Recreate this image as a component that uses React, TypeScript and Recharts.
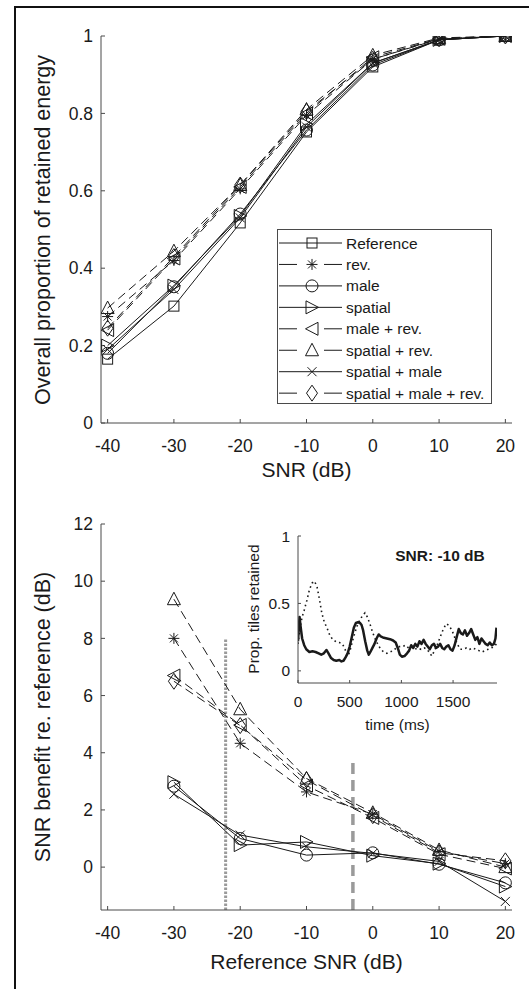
import React from 'react';
import { LineChart, Line, XAxis, YAxis, Legend, ReferenceLine, CartesianGrid } from 'recharts';

const FONT = '"Liberation Sans", Arial, Helvetica, sans-serif';
const INK = '#1a1a1a';
const AXIS = '#4a4a4a';

// ---------- series definitions ----------
const seriesNames = ['Reference', 'rev.', 'male', 'spatial', 'male + rev.', 'spatial + rev.', 'spatial + male', 'spatial + male + rev.'];
const seriesKeys = ['ref', 'rev', 'male', 'spatial', 'maleRev', 'spatialRev', 'spatialMale', 'spatialMaleRev'];
const seriesShapes = ['square', 'star', 'circle', 'right', 'left', 'up', 'cross', 'diamond'];
const seriesDashed = [false, true, false, false, true, true, false, true];

// ---------- top panel: overall proportion of retained energy ----------
const snrTop = [-40, -30, -20, -10, 0, 10, 20];
const topReference = [0.165, 0.302, 0.517, 0.752, 0.92, 0.99, 1.0];
const topRev = [0.275, 0.42, 0.605, 0.795, 0.94, 0.992, 1.0];
const topMale = [0.18, 0.352, 0.54, 0.757, 0.925, 0.99, 1.0];
const topSpatial = [0.2, 0.355, 0.535, 0.772, 0.93, 0.99, 1.0];
const topMaleRev = [0.24, 0.425, 0.61, 0.8, 0.945, 0.993, 1.0];
const topSpatialRev = [0.297, 0.444, 0.615, 0.81, 0.95, 0.995, 1.0];
const topSpatialMale = [0.19, 0.345, 0.53, 0.765, 0.93, 0.99, 1.0];
const topSpatialMaleRev = [0.245, 0.43, 0.615, 0.805, 0.94, 0.993, 1.0];
const topXTicks = [-40, -30, -20, -10, 0, 10, 20];
const topYTicks = [0, 0.2, 0.4, 0.6, 0.8, 1];

// ---------- bottom panel: SNR benefit re. reference ----------
const snrBottom = [-30, -20, -10, 0, 10, 20];
const botRev = [8.0, 4.33, 2.63, 1.85, 0.55, 0.12];
const botMale = [2.83, 1.0, 0.42, 0.5, 0.1, -0.55];
const botSpatial = [2.97, 0.77, 0.88, 0.4, 0.12, -0.68];
const botMaleRev = [6.7, 4.97, 2.85, 1.72, 0.45, -0.05];
const botSpatialRev = [9.37, 5.52, 3.1, 1.9, 0.6, 0.0];
const botSpatialMale = [2.55, 1.12, 0.71, 0.48, 0.2, -1.2];
const botSpatialMaleRev = [6.5, 4.95, 3.05, 1.8, 0.5, 0.22];
const bottomYTicks = [0, 2, 4, 6, 8, 10, 12];
const dottedMarkerSnr = -22.2;
const dottedMarkerTop = 8.0;
const dashedMarkerSnr = -3;
const dashedMarkerTop = 3.8;

// ---------- inset: proportion of tiles retained over time (SNR -10 dB) ----------
const solidTime = [0, 15, 25, 40, 60, 80, 110, 140, 170, 200, 225, 250, 275, 295, 320, 345, 370, 400, 420, 440, 460, 480, 500, 520, 540, 560, 580, 600, 615, 630, 650, 670, 685, 700, 720, 740, 760, 780, 800, 830, 860, 890, 920, 945, 965, 985, 1005, 1030, 1055, 1075, 1095, 1115, 1135, 1155, 1175, 1195, 1215, 1235, 1255, 1275, 1295, 1315, 1335, 1355, 1375, 1395, 1415, 1435, 1455, 1475, 1495, 1515, 1535, 1555, 1575, 1595, 1615, 1635, 1655, 1675, 1695, 1715, 1735, 1755, 1775, 1795, 1815, 1835, 1855, 1875, 1895, 1910, 1920];
const solidProp = [0.22, 0.40, 0.33, 0.24, 0.19, 0.16, 0.14, 0.145, 0.14, 0.13, 0.12, 0.13, 0.155, 0.13, 0.095, 0.08, 0.075, 0.08, 0.07, 0.075, 0.10, 0.13, 0.18, 0.25, 0.32, 0.355, 0.36, 0.355, 0.34, 0.30, 0.22, 0.15, 0.12, 0.14, 0.17, 0.2, 0.24, 0.27, 0.255, 0.245, 0.24, 0.235, 0.225, 0.21, 0.17, 0.12, 0.105, 0.11, 0.13, 0.15, 0.19, 0.17, 0.2, 0.18, 0.22, 0.2, 0.23, 0.2, 0.18, 0.16, 0.19, 0.2, 0.17, 0.18, 0.2, 0.17, 0.16, 0.18, 0.19, 0.16, 0.15, 0.19, 0.25, 0.31, 0.28, 0.27, 0.30, 0.26, 0.28, 0.31, 0.27, 0.23, 0.25, 0.2, 0.24, 0.22, 0.2, 0.19, 0.21, 0.19, 0.2, 0.24, 0.32];
const dottedTime = [0, 20, 40, 60, 85, 110, 135, 160, 185, 210, 230, 255, 280, 310, 340, 370, 400, 430, 455, 480, 500, 520, 545, 570, 600, 625, 648, 670, 695, 720, 745, 770, 800, 830, 860, 890, 920, 950, 980, 1010, 1040, 1070, 1100, 1130, 1160, 1190, 1220, 1250, 1275, 1295, 1320, 1345, 1370, 1395, 1420, 1440, 1465, 1490, 1515, 1540, 1570, 1600, 1630, 1660, 1690, 1720, 1750, 1780, 1810, 1840, 1870, 1900, 1920];
const dottedProp = [0.2, 0.32, 0.4, 0.45, 0.52, 0.6, 0.65, 0.665, 0.62, 0.52, 0.43, 0.36, 0.32, 0.26, 0.23, 0.215, 0.21, 0.2, 0.16, 0.11, 0.14, 0.2, 0.27, 0.33, 0.38, 0.41, 0.43, 0.4, 0.35, 0.29, 0.24, 0.2, 0.16, 0.14, 0.13, 0.14, 0.15, 0.17, 0.18, 0.18, 0.19, 0.17, 0.18, 0.16, 0.17, 0.16, 0.17, 0.16, 0.13, 0.11, 0.15, 0.19, 0.24, 0.29, 0.33, 0.35, 0.33, 0.3, 0.25, 0.2, 0.16, 0.16, 0.17, 0.16, 0.17, 0.16, 0.15, 0.14, 0.15, 0.16, 0.17, 0.18, 0.2];
const insetXTicks = [0, 500, 1000, 1500];
const insetYTicks = [0, 0.5, 1];

// ---------- data tables built from the arrays ----------
const topSeries = [topReference, topRev, topMale, topSpatial, topMaleRev, topSpatialRev, topSpatialMale, topSpatialMaleRev];
const botSeries = [null, botRev, botMale, botSpatial, botMaleRev, botSpatialRev, botSpatialMale, botSpatialMaleRev];

const topData = snrTop.map((snr, i) => {
  const row: any = { snr };
  seriesKeys.forEach((k, s) => { row[k] = topSeries[s][i]; });
  return row;
});
const bottomData = snrBottom.map((snr, i) => {
  const row: any = { snr };
  seriesKeys.forEach((k, s) => { const arr = botSeries[s]; if (arr) row[k] = arr[i]; });
  return row;
});
const insetSolid = solidTime.map((t, i) => ({ t, v: solidProp[i] }));
const insetDotted = dottedTime.map((t, i) => ({ t, v: dottedProp[i] }));

// ---------- markers ----------
function Marker({ shape, cx, cy }: { shape: string; cx: number; cy: number }) {
  const st = { stroke: INK, strokeWidth: 1, fill: 'none' };
  switch (shape) {
    case 'square':
      return <rect x={cx - 5} y={cy - 5} width={10} height={10} {...st} />;
    case 'circle':
      return <circle cx={cx} cy={cy} r={6} {...st} />;
    case 'right':
      return <polygon points={`${cx + 6.5},${cy} ${cx - 6},${cy - 6.5} ${cx - 6},${cy + 6.5}`} {...st} />;
    case 'left':
      return <polygon points={`${cx - 6.5},${cy} ${cx + 6},${cy - 6.5} ${cx + 6},${cy + 6.5}`} {...st} />;
    case 'up':
      return <polygon points={`${cx},${cy - 7} ${cx + 6.5},${cy + 5.5} ${cx - 6.5},${cy + 5.5}`} {...st} />;
    case 'cross':
      return (
        <g {...st}>
          <line x1={cx - 4.5} y1={cy - 4.5} x2={cx + 4.5} y2={cy + 4.5} />
          <line x1={cx - 4.5} y1={cy + 4.5} x2={cx + 4.5} y2={cy - 4.5} />
        </g>
      );
    case 'star':
      return (
        <g {...st}>
          <line x1={cx - 5.5} y1={cy} x2={cx + 5.5} y2={cy} />
          <line x1={cx} y1={cy - 5.5} x2={cx} y2={cy + 5.5} />
          <line x1={cx - 4} y1={cy - 4} x2={cx + 4} y2={cy + 4} />
          <line x1={cx - 4} y1={cy + 4} x2={cx + 4} y2={cy - 4} />
        </g>
      );
    case 'diamond':
      return <polygon points={`${cx},${cy - 8} ${cx + 5.5},${cy} ${cx},${cy + 8} ${cx - 5.5},${cy}`} {...st} />;
    default:
      return null;
  }
}

const makeDot = (shape: string) => (p: any) => (
  <g key={`${shape}-${p.index}`}>
    {p.cx != null && p.cy != null ? <Marker shape={shape} cx={p.cx} cy={p.cy} /> : null}
  </g>
);

const LegendBox = () => (
  <div style={{ width: 215, height: 175, border: `1px solid ${AXIS}`, background: '#fff', boxSizing: 'border-box' }}>
    <svg width={213} height={173} style={{ display: 'block' }}>
      {seriesNames.map((name, i) => {
        const cy = 13 + i * 21.45;
        return (
          <g key={name}>
            {seriesDashed[i] ? (
              <g stroke={INK} strokeWidth={1}>
                <line x1={1} y1={cy} x2={19} y2={cy} />
                <line x1={46} y1={cy} x2={64} y2={cy} />
              </g>
            ) : (
              <line x1={1} y1={cy} x2={64} y2={cy} stroke={INK} strokeWidth={1} />
            )}
            <Marker shape={seriesShapes[i]} cx={34} cy={cy} />
            <text x={68} y={cy} dy="0.36em" fontSize={15.5} fontFamily={FONT} fill={INK}>{name}</text>
          </g>
        );
      })}
    </svg>
  </div>
);

const tickStyle = { fontSize: 17.5, fill: INK, fontFamily: FONT };
const insetTickStyle = { fontSize: 15.5, fill: INK, fontFamily: FONT };

const title = (text: string, left: number, top: number, size: number, rotate = false, bold = false): React.ReactNode => (
  <div
    style={{
      position: 'absolute',
      left,
      top,
      transform: `translate(-50%, -50%)${rotate ? ' rotate(-90deg)' : ''}`,
      fontSize: size,
      fontFamily: FONT,
      fontWeight: bold ? 'bold' : 'normal',
      color: INK,
      whiteSpace: 'nowrap',
      lineHeight: 1,
    }}
  >
    {text}
  </div>
);

export default function App() {
  return (
    <div style={{ position: 'absolute', left: 0, top: 0, width: 529, height: 989, background: '#fff', overflow: 'hidden' }}>
      {/* figure frame */}
      <div style={{ position: 'absolute', left: 14, top: 5.5, width: 520, height: 990, borderTop: '2.5px solid #111', borderLeft: '2.5px solid #111' }} />

      {/* top panel */}
      <div style={{ position: 'absolute', left: 0, top: 0 }}>
        <LineChart width={529} height={480} data={topData} margin={{ top: 36, right: 17, left: 41, bottom: 27 }}>
          <XAxis dataKey="snr" type="number" domain={[-41, 21]} ticks={topXTicks} allowDataOverflow
            stroke={AXIS} tickSize={-4} tickMargin={21} tick={tickStyle} height={30} interval={0} />
          <XAxis xAxisId="t" orientation="top" dataKey="snr" type="number" domain={[-41, 21]} ticks={topXTicks} allowDataOverflow
            stroke={AXIS} tickSize={-4} tick={false} height={0} interval={0} />
          <YAxis type="number" domain={[0, 1]} ticks={topYTicks} allowDataOverflow stroke={AXIS} tickSize={-4} tickMargin={12}
            tick={tickStyle} width={60} interval={0} />
          <YAxis yAxisId="r" orientation="right" type="number" domain={[0, 1]} ticks={topYTicks} allowDataOverflow stroke={AXIS}
            tickSize={-4} tick={false} width={0} interval={0} />
          {seriesKeys.map((k, i) => (
            <Line key={k} type="linear" dataKey={k} name={seriesNames[i]} stroke={INK} strokeWidth={1}
              strokeDasharray={seriesDashed[i] ? '9 5' : undefined} dot={makeDot(seriesShapes[i])} activeDot={false}
              isAnimationActive={false} />
          ))}
          <Legend layout="vertical" align="center" verticalAlign="middle" content={() => <LegendBox />}
            wrapperStyle={{ left: 277, top: 229, width: 215, height: 175 }} />
        </LineChart>
      </div>

      {/* bottom panel */}
      <div style={{ position: 'absolute', left: 0, top: 480 }}>
        <LineChart width={529} height={509} data={bottomData} margin={{ top: 44, right: 17, left: 41, bottom: 49 }}>
          <XAxis dataKey="snr" type="number" domain={[-41, 21]} ticks={topXTicks} allowDataOverflow
            stroke={AXIS} tickSize={-4} tickMargin={21} tick={tickStyle} height={30} interval={0} />
          <XAxis xAxisId="t" orientation="top" dataKey="snr" type="number" domain={[-41, 21]} ticks={topXTicks} allowDataOverflow
            stroke={AXIS} tickSize={-4} tick={false} height={0} interval={0} />
          <YAxis type="number" domain={[-1.5, 12]} ticks={bottomYTicks} allowDataOverflow stroke={AXIS} tickSize={-4} tickMargin={12}
            tick={tickStyle} width={60} interval={0} />
          <YAxis yAxisId="r" orientation="right" type="number" domain={[-1.5, 12]} ticks={bottomYTicks} allowDataOverflow stroke={AXIS}
            tickSize={-4} tick={false} width={0} interval={0} />
          <ReferenceLine segment={[{ x: dottedMarkerSnr, y: -1.5 }, { x: dottedMarkerSnr, y: dottedMarkerTop }]}
            stroke="#9a9a9a" strokeWidth={3} strokeDasharray="2.5 1.5" ifOverflow="visible" />
          <ReferenceLine segment={[{ x: dashedMarkerSnr, y: -1.5 }, { x: dashedMarkerSnr, y: dashedMarkerTop }]}
            stroke="#9a9a9a" strokeWidth={3.5} strokeDasharray="11 6" ifOverflow="visible" />
          {seriesKeys.map((k, i) => (i === 0 ? null : (
            <Line key={k} type="linear" dataKey={k} name={seriesNames[i]} stroke={INK} strokeWidth={1}
              strokeDasharray={seriesDashed[i] ? '9 5' : undefined} dot={makeDot(seriesShapes[i])} activeDot={false}
              isAnimationActive={false} />
          )))}
        </LineChart>
      </div>

      {/* inset */}
      <div style={{ position: 'absolute', left: 240, top: 520 }}>
        <LineChart width={270} height={220} margin={{ top: 16, right: 13, left: 18, bottom: 17 }}>
          <CartesianGrid fill="#fff" horizontal={false} vertical={false} />
          <XAxis dataKey="t" type="number" domain={[0, 1925]} ticks={insetXTicks} allowDataOverflow stroke={AXIS}
            tickSize={-3} tickMargin={16} tick={insetTickStyle} height={40} interval={0} />
          <XAxis xAxisId="t" orientation="top" dataKey="t" type="number" domain={[0, 1925]} ticks={insetXTicks} allowDataOverflow
            stroke={AXIS} tickSize={-3} tick={false} height={0} interval={0} />
          <YAxis type="number" domain={[-0.09, 1]} ticks={insetYTicks} allowDataOverflow stroke={AXIS} tickSize={-3} tickMargin={11}
            tick={insetTickStyle} width={40} interval={0} />
          <YAxis yAxisId="r" orientation="right" type="number" domain={[-0.09, 1]} ticks={insetYTicks} allowDataOverflow stroke={AXIS}
            tickSize={-3} tick={false} width={0} interval={0} />
          <Line data={insetDotted} type="linear" dataKey="v" stroke={INK} strokeWidth={1.6} strokeDasharray="1.6 3.2"
            dot={false} activeDot={false} isAnimationActive={false} />
          <Line data={insetSolid} type="linear" dataKey="v" stroke={INK} strokeWidth={2.5} strokeLinejoin="round"
            dot={false} activeDot={false} isAnimationActive={false} />
        </LineChart>
      </div>

      {/* axis titles */}
      {title('Overall proportion of retained energy', 43.5, 230, 21.5, true)}
      {title('SNR (dB)', 306.5, 469, 21)}
      {title('SNR benefit re. reference (dB)', 43.5, 717, 21.5, true)}
      {title('Reference SNR (dB)', 306.5, 961, 21)}
      {title('Prop. tiles retained', 253.5, 609, 15.5, true)}
      {title('time (ms)', 397.5, 725, 15.5)}
      {title('SNR: -10 dB', 440, 555.5, 15.5, false, true)}
    </div>
  );
}
